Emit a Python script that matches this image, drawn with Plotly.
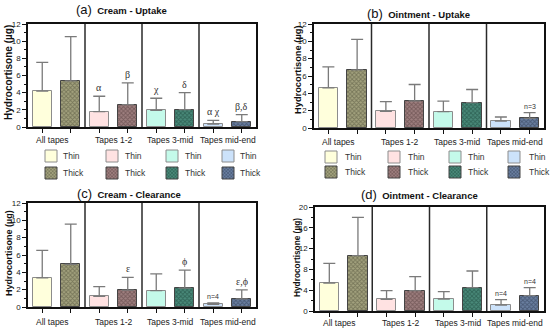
import plotly.graph_objects as go

# ---------------- data ----------------
groups = ["All tapes", "Tapes 1-2", "Tapes 3-mid", "Tapes mid-end"]
group_pos = [0, 1, 2, 3]
thickness_names = ["Thin", "Thick"]

cream_uptake_thin = [4.17, 1.79, 1.95, 0.35]
cream_uptake_thin_sd = [3.35, 1.79, 1.40, 0.43]
cream_uptake_thick = [5.38, 2.61, 2.03, 0.62]
cream_uptake_thick_sd = [5.14, 2.53, 1.98, 0.82]

oint_uptake_thin = [4.63, 1.93, 1.89, 0.81]
oint_uptake_thin_sd = [2.43, 1.12, 1.20, 0.46]
oint_uptake_thick = [6.71, 3.13, 2.93, 1.12]
oint_uptake_thick_sd = [3.51, 1.89, 1.51, 0.65]

cream_clear_thin = [3.37, 1.24, 1.90, 0.31]
cream_clear_thin_sd = [3.17, 1.12, 1.93, 0.15]
cream_clear_thick = [4.92, 1.94, 2.17, 0.93]
cream_clear_thick_sd = [4.64, 1.47, 2.09, 1.04]

oint_clear_thin = [5.38, 2.24, 2.31, 1.15]
oint_clear_thin_sd = [3.79, 1.67, 1.41, 1.03]
oint_clear_thick = [10.64, 3.91, 4.49, 2.95]
oint_clear_thick_sd = [7.37, 2.69, 3.20, 1.54]

# significance / n labels above bars
cream_uptake_thin_lbl = ["", "α", "χ", "α χ"]
cream_uptake_thick_lbl = ["", "β", "δ", "β,δ"]
oint_uptake_thin_lbl = ["", "", "", ""]
oint_uptake_thick_lbl = ["", "", "", "n=3"]
cream_clear_thin_lbl = ["", "", "", "n=4"]
cream_clear_thick_lbl = ["", "ε", "ϕ", "ε,ϕ"]
oint_clear_thin_lbl = ["", "", "", "n=4"]
oint_clear_thick_lbl = ["", "", "", "n=4"]

panel_letters = ["(a)", "(b)", "(c)", "(d)"]
panel_titles = ["Cream - Uptake", "Ointment - Uptake", "Cream - Clearance", "Ointment - Clearance"]
y_max = [12, 12, 12, 20]
y_dtick = [2, 2, 2, 4]
y_title = "Hydrocortisone (µg)"

# ---------------- styling ----------------
W, H = 550, 333
FONT = "Liberation Sans, Arial, sans-serif"
SERIF = "Liberation Serif, DejaVu Serif, serif"
thin_colors = ["#FFFFDC", "#FFE2E2", "#C4FAEA", "#CCE2FA"]
thick_bg = ["#A3A27E", "#9E7F7F", "#4A8A7A", "#6A7FA0"]
thick_fg = ["#4A4A34", "#4E3636", "#163E34", "#27344C"]

# panel pixel boxes: (left, right, top, bottom)
boxes = [(28, 256, 24, 127), (314, 544, 24, 128), (28, 256, 203, 307), (315, 544, 207, 311)]
title_pos = [(74, 10), (365, 13), (75, 193), (359, 194)]
ytitle_pos = [(8, 73, 10), (298, 70, 9.3), (9, 253, 9), (297, 258, 8.3)]
cat_y = [140, 142, 322, 323]

# legend layout (pixel positions of swatch centre / text start)
leg_swatch_left = [51, 112, 172, 228]
leg_text_left = [61, 123, 183, 238]
leg_swatch_right = [331, 394, 455, 514]
leg_text_right = [343, 406, 466, 527]
leg_rows = [[156, 173], [157, 172]]


def px(x):
    return x / W


def py(y):
    return 1 - y / H


panels = [
    (cream_uptake_thin, cream_uptake_thin_sd, cream_uptake_thick, cream_uptake_thick_sd,
     cream_uptake_thin_lbl, cream_uptake_thick_lbl),
    (oint_uptake_thin, oint_uptake_thin_sd, oint_uptake_thick, oint_uptake_thick_sd,
     oint_uptake_thin_lbl, oint_uptake_thick_lbl),
    (cream_clear_thin, cream_clear_thin_sd, cream_clear_thick, cream_clear_thick_sd,
     cream_clear_thin_lbl, cream_clear_thick_lbl),
    (oint_clear_thin, oint_clear_thin_sd, oint_clear_thick, oint_clear_thick_sd,
     oint_clear_thin_lbl, oint_clear_thick_lbl),
]

OFF = 0.25
BW = 0.34

fig = go.Figure()
annotations = []
shapes = []
layout = {}


def legend_id(k):
    return "legend" if k == 1 else f"legend{k}"


def thin_marker(g):
    return dict(color=thin_colors[g], line=dict(color="#8C8C8C", width=1))


def thick_marker(g):
    return dict(color=thick_bg[g], line=dict(color="#444444", width=1),
                pattern=dict(shape="x", size=3, solidity=0.5,
                             fgcolor=thick_fg[g], bgcolor=thick_bg[g]))


for p, (tm, ts, km, ks, tl, kl) in enumerate(panels):
    xa = "x" if p == 0 else f"x{p + 1}"
    ya = "y" if p == 0 else f"y{p + 1}"
    for g in group_pos:
        fig.add_trace(go.Bar(
            x=[g - OFF], y=[tm[g]], width=BW, name=f"{groups[g]} – Thin",
            marker=thin_marker(g),
            error_y=dict(type="data", array=[ts[g]], symmetric=False, arrayminus=[0],
                         color="#7A7A7A", thickness=1.3, width=6),
            xaxis=xa, yaxis=ya, showlegend=False,
        ))
        fig.add_trace(go.Bar(
            x=[g + OFF], y=[km[g]], width=BW, name=f"{groups[g]} – Thick",
            marker=thick_marker(g),
            error_y=dict(type="data", array=[ks[g]], symmetric=False, arrayminus=[0],
                         color="#7A7A7A", thickness=1.3, width=6),
            xaxis=xa, yaxis=ya, showlegend=False,
        ))
        # labels above error bars
        for lbl, xv, top in ((tl[g], g - OFF, tm[g] + ts[g]), (kl[g], g + OFF, km[g] + ks[g])):
            if lbl:
                is_n = lbl.startswith("n=")
                annotations.append(dict(
                    x=xv, y=top, xref=xa, yref=ya, text=lbl, showarrow=False,
                    yanchor="bottom", yshift=1,
                    font=dict(family=FONT if is_n else SERIF,
                              size=7 if is_n else 10, color="#333333")))
        # category label
        annotations.append(dict(
            x=g, y=py(cat_y[p]), xref=xa, yref="paper", text=groups[g], showarrow=False,
            yanchor="middle", xshift=-4 if g == 0 else 0,
            font=dict(family=FONT, size=8.5, color="#222")))
    # dividers
    for d in (0.5, 1.5, 2.5):
        shapes.append(dict(type="line", xref=xa, yref=f"{ya} domain", x0=d, x1=d, y0=0, y1=1,
                           line=dict(color="#2A2A2A", width=1.5)))

    l, r, t, b = boxes[p]
    axk = "xaxis" if p == 0 else f"xaxis{p + 1}"
    ayk = "yaxis" if p == 0 else f"yaxis{p + 1}"
    layout[axk] = dict(domain=[px(l), px(r)], anchor=ya, range=[-0.5, 3.5],
                       showline=True, linecolor="#111", linewidth=1.5, mirror=True,
                       ticks="outside", ticklen=4, tickcolor="#111", tickwidth=1,
                       tickvals=[g + s for g in group_pos for s in (-OFF, OFF)],
                       showticklabels=False, showgrid=False, zeroline=False, fixedrange=True)
    layout[ayk] = dict(domain=[py(b), py(t)], anchor=xa, range=[0, y_max[p]],
                       showline=True, linecolor="#111", linewidth=1.5, mirror=True,
                       ticks="outside", ticklen=4, tickcolor="#111", tickwidth=1,
                       dtick=y_dtick[p], tick0=0,
                       minor=dict(ticks="outside", ticklen=2, dtick=y_dtick[p] / 2,
                                  tickcolor="#111"),
                       tickfont=dict(family=FONT, size=8, color="#222"),
                       showgrid=False, zeroline=False, fixedrange=True)
    # panel titles
    tx, ty = title_pos[p]
    annotations.append(dict(
        x=px(tx), y=py(ty), xref="paper", yref="paper", xanchor="left", yanchor="middle",
        showarrow=False,
        text=f"<span style='font-size:13px'>{panel_letters[p]}</span>&nbsp; <b>{panel_titles[p]}</b>",
        font=dict(family=FONT, size=9.5, color="#111")))
    # y title
    yx, yy, ys = ytitle_pos[p]
    annotations.append(dict(
        x=px(yx), y=py(yy), xref="paper", yref="paper", xanchor="center", yanchor="middle",
        showarrow=False, textangle=-90, text=f"<b>{y_title}</b>",
        font=dict(family=FONT, size=ys, color="#111")))

# legends: 4 columns x 2 rows under each upper panel; one swatch per legend box,
# the "Thin"/"Thick" words are placed as text next to the swatch
for half, (sw_cols, tx_cols) in enumerate(((leg_swatch_left, leg_text_left),
                                           (leg_swatch_right, leg_text_right))):
    for row in range(2):
        yrow = leg_rows[half][row]
        for c in range(4):
            k = half * 8 + row * 4 + c + 1
            fig.add_trace(go.Bar(
                x=[None], y=[None], name="",
                marker=thin_marker(c) if row == 0 else thick_marker(c),
                showlegend=True, legend=legend_id(k), hoverinfo="skip",
            ))
            layout[legend_id(k)] = dict(
                x=px(sw_cols[c] - 20), y=py(yrow), xanchor="left", yanchor="middle",
                xref="paper", yref="paper", bgcolor="rgba(0,0,0,0)",
                font=dict(family=FONT, size=8.5, color="#333"),
                itemclick=False, itemdoubleclick=False)
            annotations.append(dict(
                x=px(tx_cols[c]), y=py(yrow), xref="paper", yref="paper",
                xanchor="left", yanchor="middle", showarrow=False,
                text=thickness_names[row],
                font=dict(family=FONT, size=8.5, color="#333")))

fig.update_layout(
    width=W, height=H, margin=dict(l=0, r=0, t=0, b=0, autoexpand=False),
    paper_bgcolor="white", plot_bgcolor="white",
    barmode="overlay", bargap=0, hovermode=False,
    annotations=annotations, shapes=shapes,
    **layout,
)

# remove the browser's default 8px page margin so the figure fills the window exactly
fig.write_html("out.html", config={"displayModeBar": False, "staticPlot": False},
               post_script="document.body.style.margin='0';document.body.style.overflow='hidden';")
